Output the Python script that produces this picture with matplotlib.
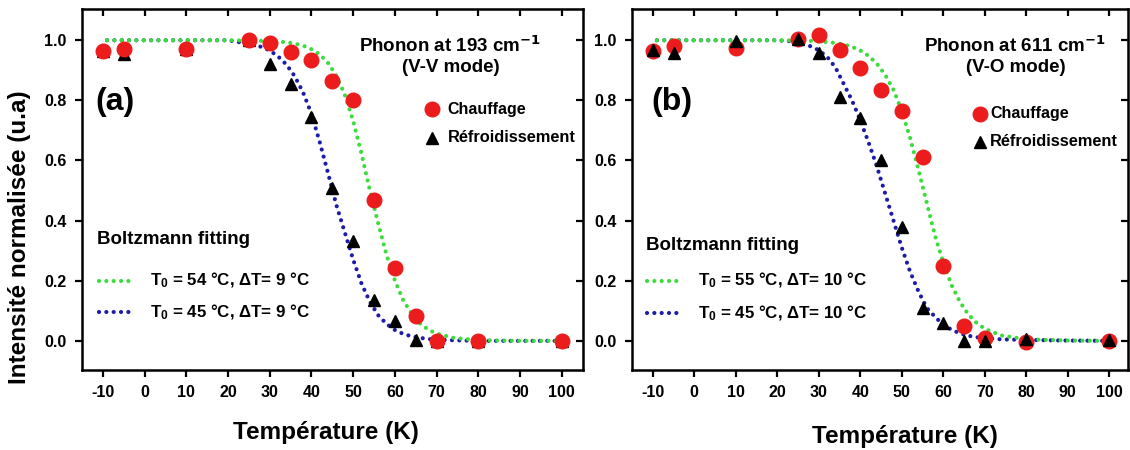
import matplotlib
matplotlib.use('Agg')
import matplotlib.pyplot as plt

plt.rcParams['font.family'] = ['Liberation Sans', 'DejaVu Sans']
plt.rcParams['font.weight'] = 'bold'
plt.rcParams['mathtext.default'] = 'regular'
plt.rcParams['axes.unicode_minus'] = False

# measured points (same temperatures for both panels)
temp = [-10, -5, 10, 25, 30, 35, 40, 45, 50, 55, 60, 65, 70, 80, 100]
heat_a = [0.965, 0.97, 0.97, 1.0, 0.992, 0.961, 0.934, 0.865, 0.80, 0.468, 0.241, 0.084, 0.0, 0.0, 0.0]
cool_a = [0.965, 0.955, 0.97, 1.0, 0.922, 0.854, 0.745, 0.507, 0.333, 0.136, 0.066, 0.003, 0.0, 0.0, 0.0]
heat_b = [0.965, 0.98, 0.975, 1.005, 1.019, 0.967, 0.909, 0.836, 0.765, 0.61, 0.25, 0.05, 0.011, -0.005, 0.0]
cool_b = [0.969, 0.956, 0.998, 1.005, 0.956, 0.81, 0.74, 0.6, 0.378, 0.109, 0.059, 0.0, 0.0, 0.007, 0.003]

# fitted curves
fit_t = [-9, 0, 10, 20, 25, 28, 30, 32, 34, 36, 38, 40, 42, 44, 46, 48, 50, 52, 54, 56,
         58, 60, 62, 64, 66, 68, 70, 74, 80, 90, 101]
fit_heat_a = [1.0, 1.0, 1.0, 1.0, 0.999, 0.998, 0.997, 0.996, 0.993, 0.989, 0.982, 0.97, 0.953,
              0.924, 0.881, 0.818, 0.731, 0.622, 0.5, 0.39, 0.285, 0.2, 0.135, 0.09, 0.058,
              0.037, 0.024, 0.01, 0.002, 0.0, 0.0]
fit_cool_a = [1.0, 1.0, 1.0, 1.0, 0.988, 0.978, 0.966, 0.946, 0.919, 0.88, 0.826, 0.755, 0.66,
              0.556, 0.45, 0.36, 0.27, 0.19, 0.13, 0.085, 0.056, 0.036, 0.023, 0.015, 0.01,
              0.006, 0.004, 0.002, 0.0, 0.0, 0.0]
fit_heat_b = [1.0, 1.0, 1.0, 1.0, 0.999, 0.998, 0.996, 0.994, 0.991, 0.986, 0.978, 0.966, 0.948,
              0.922, 0.885, 0.835, 0.765, 0.675, 0.57, 0.46, 0.35, 0.26, 0.185, 0.13, 0.088,
              0.06, 0.04, 0.018, 0.005, 0.001, 0.0]
fit_cool_b = [1.0, 1.0, 1.0, 1.0, 0.995, 0.98, 0.967, 0.945, 0.91, 0.855, 0.8, 0.734, 0.66,
              0.58, 0.49, 0.40, 0.31, 0.23, 0.165, 0.11, 0.08, 0.053, 0.037, 0.025, 0.017,
              0.012, 0.009, 0.005, 0.003, 0.001, 0.0]

xticks = [-10, 0, 10, 20, 30, 40, 50, 60, 70, 80, 90, 100]
yticks = [0.0, 0.2, 0.4, 0.6, 0.8, 1.0]

RED = '#ec1c1c'
GREEN = '#3ddc3d'
BLUE = '#1c1ca8'
dotted = dict(linestyle=(0, (0.01, 1.75)), dash_capstyle='round', lw=3.0)

panels = [
    dict(rect=[82/1130, 1-370/450, 500.7/1130, 360.7/450], xlim=(-15, 105),
         heat=heat_a, cool=cool_a, fh=fit_heat_a, fc=fit_cool_a, tag='(a)',
         title='Phonon at 193 cm$^{\\mathbf{-1}}$', mode='(V-V mode)',
         lab_g='T$_0$ = 54 °C, ΔT= 9 °C', lab_b='T$_0$ = 45 °C, ΔT= 9 °C',
         tri_top=False, tx=73.2, tag_x=-7.2,
         legx=69.0, legtx=72.6, legy=(0.77, 0.676),
         boltz=(-11.4, 0.338), liney=(0.20, 0.095), linex=(-11, -2.7), labx=1.3),
    dict(rect=[632/1130, 1-370/450, 496/1130, 360.7/450], xlim=(-15, 104.5),
         heat=heat_b, cool=cool_b, fh=fit_heat_b, fc=fit_cool_b, tag='(b)',
         title='Phonon at 611 cm$^{\\mathbf{-1}}$', mode='(V-O mode)',
         lab_g='T$_0$ = 55 °C, ΔT= 10 °C', lab_b='T$_0$ = 45 °C, ΔT= 10 °C',
         tri_top=True, tx=77.2, tag_x=-5.4,
         legx=68.9, legtx=71.3, legy=(0.756, 0.662),
         boltz=(-11.7, 0.316), liney=(0.20, 0.092), linex=(-11.3, -3.0), labx=0.9),
]

fig = plt.figure(figsize=(11.3, 4.5), dpi=100)

for p in panels:
    ax = fig.add_axes(p['rect'])
    ax.plot(fit_t, p['fc'], color=BLUE, zorder=2, **dotted)
    ax.plot(fit_t, p['fh'], color=GREEN, zorder=2.1, **dotted)
    z_tri = 4 if p['tri_top'] else 3
    ax.plot(temp, p['cool'], '^', color='black', ms=9, zorder=z_tri)
    ax.plot(temp, p['heat'], 'o', color=RED, ms=10.5, zorder=3.5)

    ax.set_xlim(*p['xlim'])
    ax.set_ylim(-0.097, 1.103)
    ax.set_xticks(xticks)
    ax.set_yticks(yticks)
    ax.set_yticklabels(['%.1f' % v for v in yticks])
    ax.tick_params(direction='out', length=5, width=1.6, labelsize=11.5, pad=6)
    for lab in ax.get_xticklabels() + ax.get_yticklabels():
        lab.set_fontweight('bold')
    for s in ax.spines.values():
        s.set_linewidth(1.8)

    top = ax.secondary_xaxis('top')
    top.set_xticks(xticks)
    top.tick_params(direction='in', length=5, width=1.6, labeltop=False)
    right = ax.secondary_yaxis('right')
    right.set_yticks(yticks)
    right.tick_params(direction='in', length=5, width=1.6, labelright=False)

    ax.text(p['tx'], 0.983, p['title'], ha='center', va='center', fontsize=13.5, fontweight='bold')
    ax.text(p['tx'] + 0.3, 0.91, p['mode'], ha='center', va='center', fontsize=13.5, fontweight='bold')
    ax.text(p['tag_x'], 0.795, p['tag'], ha='center', va='center', fontsize=23, fontweight='bold')

    ax.plot([p['legx']], [p['legy'][0]], 'o', color=RED, ms=10.5, clip_on=False)
    ax.plot([p['legx']], [p['legy'][1]], '^', color='black', ms=9, clip_on=False)
    ax.text(p['legtx'], p['legy'][0], 'Chauffage', ha='left', va='center', fontsize=11.5, fontweight='bold')
    ax.text(p['legtx'], p['legy'][1], 'Réfroidissement', ha='left', va='center', fontsize=11.8, fontweight='bold')

    ax.text(p['boltz'][0], p['boltz'][1], 'Boltzmann fitting', ha='left', va='center', fontsize=13.5, fontweight='bold')
    ax.plot(p['linex'], [p['liney'][0]] * 2, color=GREEN, clip_on=False, **dotted)
    ax.plot(p['linex'], [p['liney'][1]] * 2, color=BLUE, clip_on=False, **dotted)
    ax.text(p['labx'], p['liney'][0], p['lab_g'], ha='left', va='center', fontsize=12.2, fontweight='bold')
    ax.text(p['labx'], p['liney'][1], p['lab_b'], ha='left', va='center', fontsize=12.2, fontweight='bold')

fig.text(326/1130, 1-433/450, 'Température (K)', ha='center', va='center', fontsize=17.5, fontweight='bold')
fig.text(905/1130, 1-437/450, 'Température (K)', ha='center', va='center', fontsize=17.5, fontweight='bold')
fig.text(20/1130, 1-237/450, 'Intensité normalisée (u.a)', ha='center', va='center',
         rotation=90, fontsize=17.5, fontweight='bold')

fig.savefig('out.png', dpi=100)
